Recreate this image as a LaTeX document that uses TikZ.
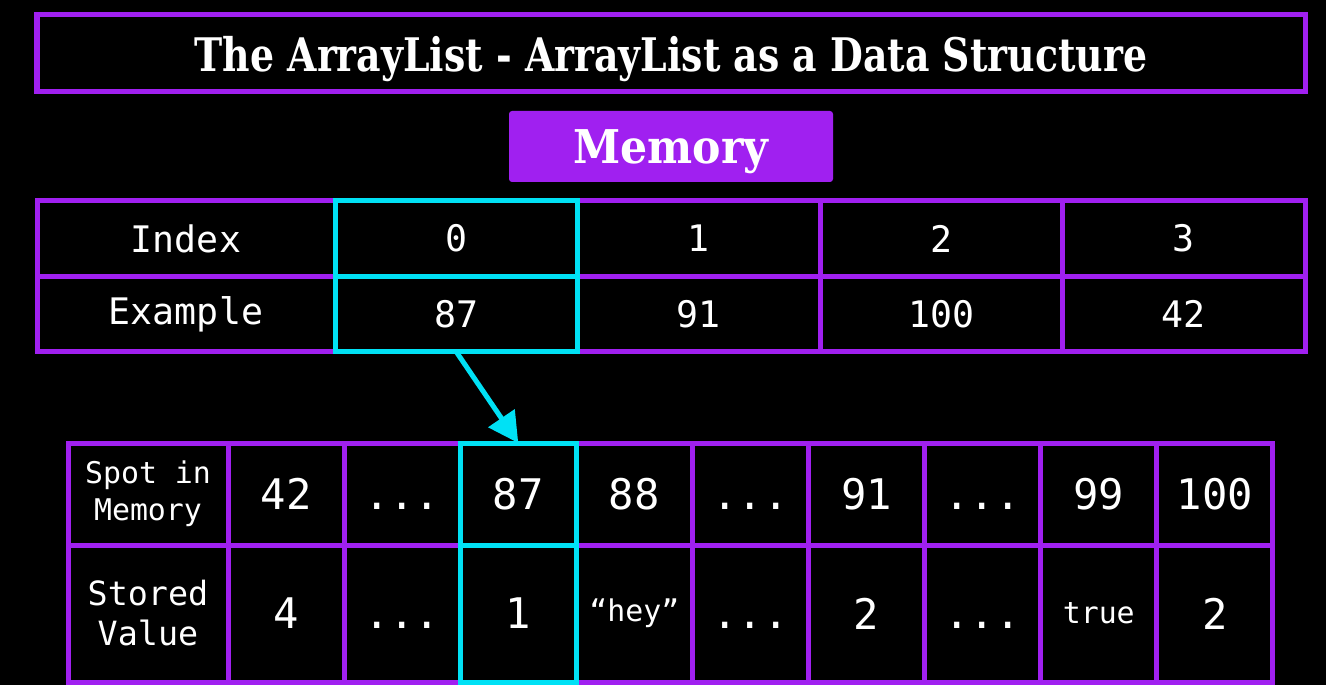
\documentclass[tikz,border=0pt]{standalone}
\usepackage{fontspec}
\setmainfont{DejaVu Serif}
\newfontfamily\monofont{DejaVu Sans Mono}
\usetikzlibrary{positioning,arrows.meta}
\definecolor{mypurple}{RGB}{160,32,240}
\definecolor{mycyan}{RGB}{0,225,245}
\newcommand{\smallval}[1]{{\fontsize{17}{20}\selectfont #1}}
\newcommand{\skipval}{\vphantom{0}...}

\begin{document}
\begin{tikzpicture}[
  cell/.style={draw=mypurple, line width=0.1cm, rectangle, outer sep=0pt, inner sep=0pt, text=white, align=center},
  hilite/.style={draw=mycyan, line width=0.1cm},
]
  \fill[black] (0,0) rectangle (26.52,13.7);
  \useasboundingbox (0,0) rectangle (26.52,13.7);

  % Title
  \node[draw=mypurple, line width=0.1cm, rectangle, minimum width=25.36cm, minimum height=1.54cm, text=white, text depth=0pt] (title) at (13.42,12.63) {\resizebox{542pt}{20pt}{\bfseries The ArrayList - ArrayList as a Data Structure}};

  % Memory
  \node[fill=mypurple, rounded corners=0.06cm, minimum width=6.48cm, minimum height=1.42cm, text=white, text depth=0pt] (memory) at (13.42,10.77) {\resizebox{111pt}{19.3pt}{\bfseries Memory}};

  % Index / Example
  \node[cell, minimum width=5.96cm, minimum height=1.51cm, font=\monofont\fontsize{20.8}{25}\selectfont] (idxhead) at (3.72,8.93) {Index};
  \node[cell, minimum width=5.96cm, minimum height=1.51cm, font=\monofont\fontsize{20.8}{25}\selectfont] (exhead) at (3.72,7.42) {Example};
  \foreach \i/\v in {0/87,1/91,2/100,3/42} {
    \node[cell, minimum width=4.85cm, minimum height=1.51cm, font=\monofont\fontsize{20.8}{25}\selectfont] (idx\i) at ({9.125+4.85*\i},8.93) {\i};
    \node[cell, minimum width=4.85cm, minimum height=1.51cm, font=\monofont\fontsize{20.8}{25}\selectfont] (ex\i) at ({9.125+4.85*\i},7.42) {\v};
  }

  % Spot in Memory / Stored Value
  \node[cell, minimum width=3.2cm, minimum height=2.04cm, font=\monofont\fontsize{17}{21}\selectfont] (spothead) at (2.96,3.82) {Spot in\\Memory};
  \node[cell, minimum width=3.2cm, minimum height=2.74cm, font=\monofont\fontsize{19}{22.8}\selectfont] (storedhead) at (2.96,1.43) {Stored\\Value};
  \foreach \i/\s/\v in {1/42/4, 2/\skipval/\skipval, 3/87/1, 4/88/\smallval{“hey”}, 5/\skipval/\skipval, 6/91/2, 7/\skipval/\skipval, 8/99/\smallval{true}, 9/100/2} {
    \node[cell, minimum width=2.322cm, minimum height=2.04cm, font=\monofont\fontsize{24}{28}\selectfont] (spot\i) at ({3.399+2.322*\i},3.82) {\s};
    \node[cell, minimum width=2.322cm, minimum height=2.74cm, font=\monofont\fontsize{24}{28}\selectfont] (stored\i) at ({3.399+2.322*\i},1.43) {\v};
  }

  % highlight
  \draw[hilite] (idx0.north west) rectangle (ex0.south east);
  \draw[hilite] (idx0.south west) -- (idx0.south east);
  \draw[hilite] (spot3.north west) rectangle (stored3.south east);
  \draw[hilite] (spot3.south west) -- (spot3.south east);
  \draw[hilite, -{Triangle[length=0.6cm,width=0.62cm]}] (ex0.south) -- (spot3.north);
\end{tikzpicture}
\end{document}
